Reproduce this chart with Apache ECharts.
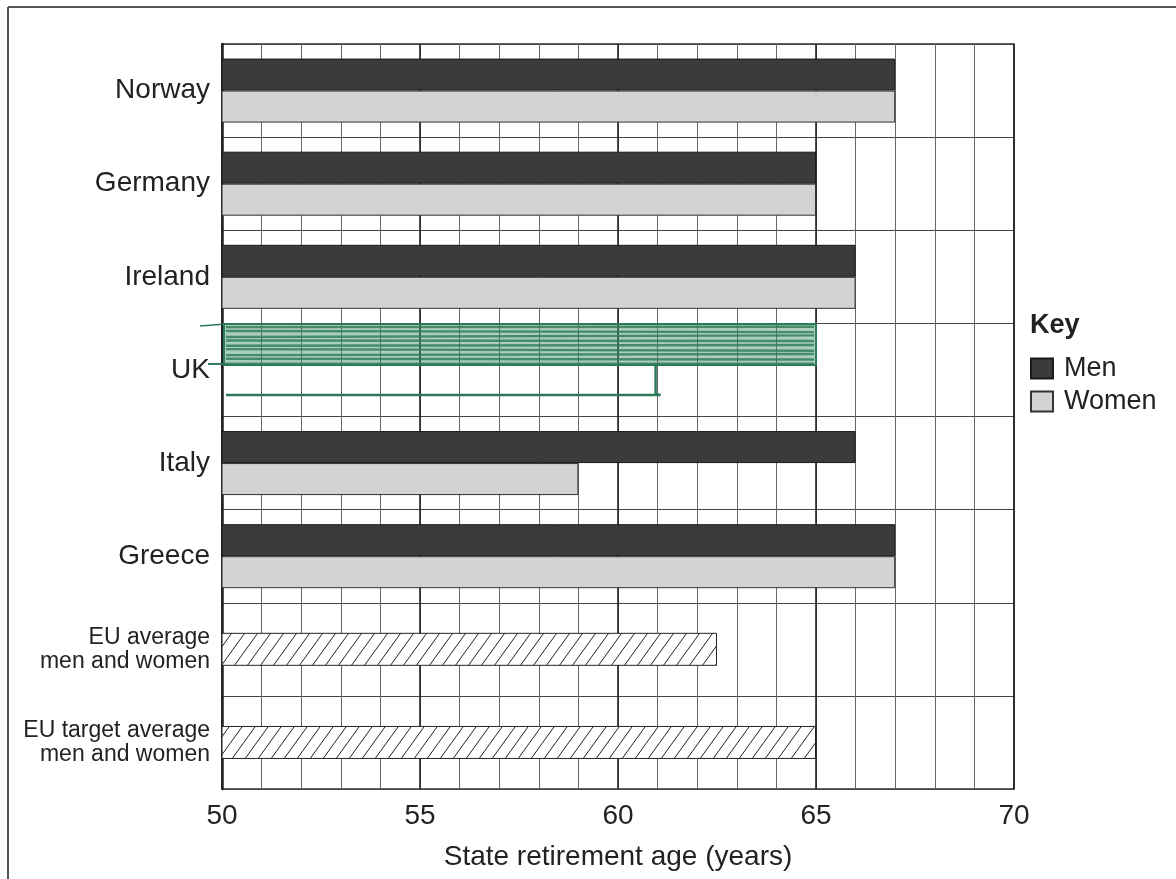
<!DOCTYPE html>
<html>
<head>
<meta charset="utf-8">
<script src="https://cdn.jsdelivr.net/npm/echarts@6/dist/echarts.min.js"></script>
<style>
  html, body { margin: 0; padding: 0; background: #fff; }
  #chart { width: 1176px; height: 879px; }
</style>
</head>
<body>
<div id="chart"></div>
<script>
// categories, top to bottom
const categories = ['Norway', 'Germany', 'Ireland', 'UK', 'Italy', 'Greece',
    'EU average\nmen and women', 'EU target average\nmen and women'];
// state retirement age (years)
const menValues   = [67, 65, 66, 65, 66, 67, null, null];
const womenValues = [67, 65, 66, 61, 59, 67, null, null];
const euValues    = [null, null, null, null, null, null, 62.5, 65];
const xTicks = [50, 55, 60, 65, 70];
const ukIndex = 3; // UK row was filled in by hand (green pen)

const FONT = '"Liberation Sans", Arial, sans-serif';

// diagonal hatching for the EU bars
const hatch = (() => {
    const w = 13, h = 18;
    const c = document.createElement('canvas');
    c.width = w; c.height = h;
    const ctx = c.getContext('2d');
    ctx.fillStyle = '#fff';
    ctx.fillRect(0, 0, w, h);
    ctx.strokeStyle = '#222';
    ctx.lineWidth = 1;
    ctx.beginPath();
    ctx.moveTo(-w, 2 * h); ctx.lineTo(2 * w, -h);
    ctx.moveTo(-2 * w, 2 * h); ctx.lineTo(w, -h);
    ctx.moveTo(0, 2 * h); ctx.lineTo(3 * w, -h);
    ctx.stroke();
    return c;
})();

const chart = echarts.init(document.getElementById('chart'));

// bars without the UK row (that one is drawn as pen marks below)
const skipUK = arr => arr.map((v, i) => (i === ukIndex || v == null) ? '-' : v);

const option = {
    backgroundColor: '#fff',
    animation: false,
    textStyle: { fontFamily: FONT },
    grid: {
        left: 222, right: 162, top: 44, bottom: 90,
        show: true, borderColor: '#333', borderWidth: 1.5
    },
    graphic: [
        { type: 'line', shape: { x1: 8, y1: 7, x2: 1176, y2: 7 }, style: { stroke: '#555', lineWidth: 2 } },
        { type: 'line', shape: { x1: 8, y1: 7, x2: 8, y2: 879 }, style: { stroke: '#555', lineWidth: 2 } },
        { type: 'text', left: 1030, top: 312, style: { text: 'Key', font: 'bold 27px ' + FONT, fill: '#222' } }
    ],
    legend: {
        data: ['Men', 'Women'],
        orient: 'vertical',
        left: 1030, top: 355,
        itemWidth: 22, itemHeight: 20, itemGap: 6,
        padding: 0,
        icon: 'rect',
        textStyle: { fontSize: 27, color: '#222', fontFamily: FONT, padding: [0, 0, 0, 6] }
    },
    xAxis: [
        {
            type: 'value', min: 50, max: 70, interval: 1, position: 'bottom',
            axisLine: { show: false }, axisTick: { show: false }, axisLabel: { show: false },
            splitLine: { lineStyle: { color: '#666', width: 1 } }
        },
        {
            type: 'value', min: 50, max: 70, interval: 5, position: 'bottom',
            name: 'State retirement age (years)', nameLocation: 'middle', nameGap: 54,
            nameTextStyle: { fontSize: 28, color: '#222', fontFamily: FONT },
            axisLine: { lineStyle: { color: '#222', width: 2.5 } },
            axisTick: { length: 8, lineStyle: { color: '#222', width: 1.5 } },
            axisLabel: {
                fontSize: 28, color: '#222', margin: 13, fontFamily: FONT,
                formatter: v => xTicks.includes(v) ? String(v) : ''
            },
            splitLine: { lineStyle: { color: '#222', width: 1.6 } }
        }
    ],
    yAxis: [
        {
            type: 'category', data: categories, inverse: true,
            axisLine: { lineStyle: { color: '#222', width: 2.5 } },
            axisTick: { show: false },
            splitLine: { show: true, lineStyle: { color: '#444', width: 1 } },
            axisLabel: {
                margin: 12, fontSize: 28, color: '#222', fontFamily: FONT,
                formatter: v => v.includes('\n') ? v.split('\n').map(s => '{s|' + s + '}').join('\n') : v,
                rich: { s: { fontSize: 23, lineHeight: 24, color: '#222', fontFamily: FONT, align: 'right' } }
            }
        },
        { type: 'category', data: categories, inverse: true, show: false }
    ],
    series: [
        {
            name: 'Men', type: 'bar', xAxisIndex: 0, yAxisIndex: 0,
            data: skipUK(menValues), barWidth: 32, barGap: '0%',
            itemStyle: { color: '#3b3b3b', borderColor: '#1a1a1a', borderWidth: 1 }
        },
        {
            name: 'Women', type: 'bar', xAxisIndex: 0, yAxisIndex: 0,
            data: skipUK(womenValues), barWidth: 32, barGap: '0%',
            itemStyle: { color: '#d3d3d3', borderColor: '#333', borderWidth: 1 }
        },
        {
            name: 'EU', type: 'bar', xAxisIndex: 0, yAxisIndex: 1,
            data: euValues.map(v => v == null ? '-' : v), barWidth: 33,
            itemStyle: { color: { image: hatch, repeat: 'repeat' }, borderColor: '#222', borderWidth: 1 }
        },
        {
            // hand-drawn green marks for the UK row
            name: 'UK', type: 'custom', xAxisIndex: 0, yAxisIndex: 0, z: 5,
            data: [[menValues[ukIndex], ukIndex, womenValues[ukIndex]]],
            renderItem: (params, api) => {
                const start = api.coord([50, api.value(1)]);
                const men = api.coord([api.value(0), api.value(1)]);
                const women = api.coord([api.value(2), api.value(1)]);
                const cy = start[1];
                const x0 = start[0];
                const pen = '#2c7a58';
                const strokes = [];
                const offs = [0.6, 0.2, 0.9, 0.4, 0.7, 0.1, 0.8, 0.3, 0.5];
                for (let k = 0; k < 9; k++) {
                    const y = cy - 44 + k * 4.6;
                    strokes.push({
                        type: 'line',
                        shape: { x1: x0 + 4, y1: y + offs[k] * 2, x2: men[0] - 2, y2: y + 2 - offs[k] * 2 },
                        style: { stroke: pen, lineWidth: 2.4, opacity: 0.8 }
                    });
                }
                return {
                    type: 'group',
                    children: [
                        {
                            type: 'rect',
                            shape: { x: x0 + 2, y: cy - 46, width: men[0] - x0 - 2, height: 41 },
                            style: { fill: 'rgba(70,146,108,0.45)', stroke: pen, lineWidth: 2 }
                        },
                        ...strokes,
                        { type: 'line', shape: { x1: x0 - 22, y1: cy - 44, x2: x0 + 4, y2: cy - 46 }, style: { stroke: pen, lineWidth: 1.5 } },
                        { type: 'line', shape: { x1: x0 - 14, y1: cy - 6, x2: x0 + 4, y2: cy - 6 }, style: { stroke: pen, lineWidth: 2 } },
                        {
                            type: 'polyline',
                            shape: { points: [[x0 + 4, cy + 25], [women[0] + 3, cy + 25], [women[0] - 2, cy + 24], [women[0] - 2, cy - 7]] },
                            style: { stroke: pen, lineWidth: 2.5, fill: null }
                        }
                    ]
                };
            }
        }
    ]
};

chart.setOption(option);
</script>
</body>
</html>
